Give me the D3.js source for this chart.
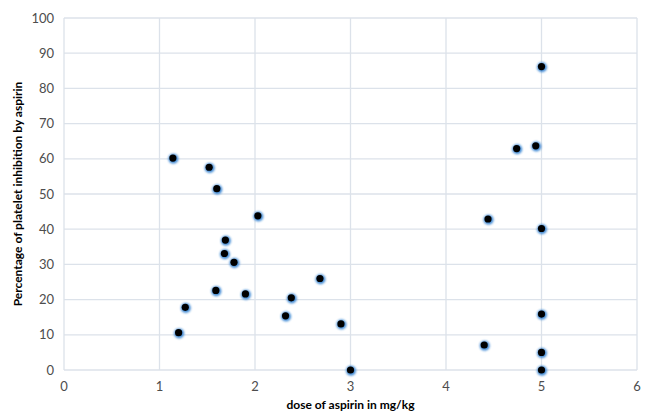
<!DOCTYPE html>
<html><head><meta charset="utf-8">
<script src="https://cdn.jsdelivr.net/npm/d3@7"></script>
<style>body{margin:0;background:#fff}svg{display:block}</style>
</head><body>
<script>
const doses = [1.14,1.52,1.60,2.03,1.69,1.68,1.78,1.59,1.90,2.38,2.68,1.27,1.20,2.32,2.90,3.00,4.40,4.44,5.00,5.00,5.00,5.00,5.00,4.74,4.94];
const inhibition = [60.2,57.6,51.5,43.8,36.9,33.1,30.6,22.6,21.6,20.5,26.0,17.8,10.6,15.4,13.1,0,7.1,42.9,86.2,40.2,15.9,5.0,0,62.9,63.7];
const xTicks = [0,1,2,3,4,5,6];
const yTicks = [0,10,20,30,40,50,60,70,80,90,100];

const W=646,H=414, m={l:64,r:9,t:18,b:44};
const svg=d3.select("body").append("svg").attr("width",W).attr("height",H);
const defs=svg.append("defs");
const f=defs.append("filter").attr("id","glow").attr("x","-100%").attr("y","-100%").attr("width","300%").attr("height","300%");
f.append("feGaussianBlur").attr("stdDeviation",1.0);

const x=d3.scaleLinear().domain([0,6]).range([m.l,W-m.r]);
const y=d3.scaleLinear().domain([0,100]).range([H-m.b,m.t]);
const gc="#dce2ea";
const g=svg.append("g");
g.selectAll(".hg").data(yTicks).join("line").attr("x1",x(0)).attr("x2",x(6)).attr("y1",d=>y(d)).attr("y2",d=>y(d)).attr("stroke",gc).attr("stroke-width",1.3);
g.selectAll(".vg").data(xTicks).join("line").attr("y1",y(0)).attr("y2",y(100)).attr("x1",d=>x(d)).attr("x2",d=>x(d)).attr("stroke",gc).attr("stroke-width",1.3);

const font="Lato, 'Open Sans', sans-serif";
svg.selectAll(".yl").data(yTicks).join("text").attr("x",m.l-10).attr("y",d=>y(d)).attr("dy","0.35em").attr("text-anchor","end")
 .attr("font-family",font).attr("font-size",13).attr("fill","#4d4d4d").text(d=>d);
svg.selectAll(".xl").data(xTicks).join("text").attr("x",d=>x(d)).attr("y",y(0)+21).attr("text-anchor","middle")
 .attr("font-family",font).attr("font-size",13).attr("fill","#4d4d4d").text(d=>d);

svg.append("text").attr("x",(x(0)+x(6))/2).attr("y",H-5).attr("text-anchor","middle").attr("font-family",font).attr("font-weight","bold").attr("font-size",12).attr("fill","#000").text("dose of aspirin in mg/kg");
svg.append("text").attr("transform",`translate(22,${(y(0)+y(100))/2}) rotate(-90)`).attr("text-anchor","middle").attr("font-family",font).attr("font-weight","bold").attr("font-size",12).attr("fill","#000").text("Percentage of platelet inhibition by aspirin");

const pts=doses.map((d,i)=>({x:d,y:inhibition[i]}));
const pg=svg.append("g");
pg.selectAll(".h").data(pts).join("circle").attr("cx",d=>x(d.x)+0.5).attr("cy",d=>y(d.y)+0.7).attr("r",5).attr("fill","#2f7fd0").attr("opacity",0.9).attr("filter","url(#glow)");
pg.selectAll(".d").data(pts).join("circle").attr("cx",d=>x(d.x)).attr("cy",d=>y(d.y)).attr("r",3.6).attr("fill","#000");
</script>
</body></html>
